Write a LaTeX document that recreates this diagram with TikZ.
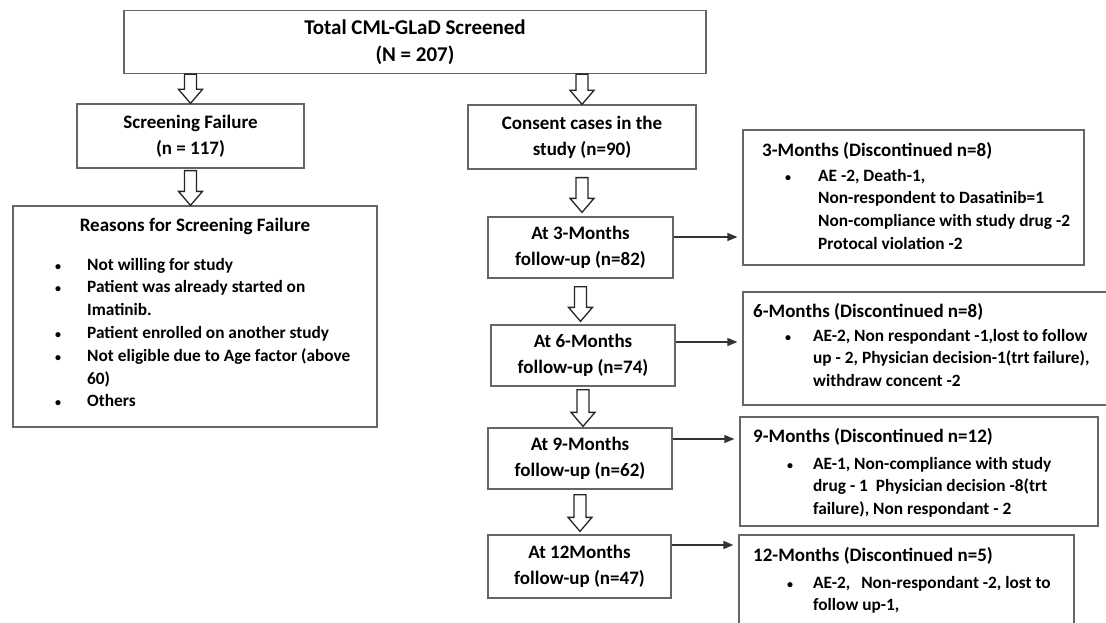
\documentclass[tikz,border=0pt]{standalone}
\usepackage{fontspec}
\setmainfont{Carlito}
\usetikzlibrary{arrows.meta, calc}

\newcommand{\hollowarrow}[2]{%
  \draw[blockarrow] let \p1=(#1), \p2=(#2) in
    (\x1-6pt,\y1) -- (\x1-6pt,\y2+14pt) -- (\x1-12pt,\y2+14pt) -- (\x1,\y2)
    -- (\x1+12pt,\y2+14pt) -- (\x1+6pt,\y2+14pt) -- (\x1+6pt,\y1) -- cycle;}
\newcommand{\dotitem}{{\fontsize{12}{12}\selectfont\textbullet}}

\begin{document}
\begin{tikzpicture}[x=1pt, y=-1pt]
\tikzstyle{box}=[draw=black!60, line width=1.3pt, inner sep=0pt, align=center, font=\fontsize{19}{26}\selectfont\bfseries]
\tikzstyle{txt}=[inner sep=0pt, font=\fontsize{17.3}{22.8}\selectfont\bfseries]
\tikzstyle{head}=[inner sep=0pt, font=\fontsize{19}{22.8}\selectfont\bfseries]
\tikzstyle{blockarrow}=[draw=black!85, line width=1.3pt, fill=white]
\tikzstyle{side}=[draw=black!80, line width=1.3pt, shorten >=5pt, -{Triangle[length=10pt, width=8pt]}]

\useasboundingbox (0,0) rectangle (1106,623);
\fill[white] (0,0) rectangle (1106,623);
\clip (0,0) rectangle (1106,623);

% screening
\node[box, minimum width=582pt, minimum height=63pt, font=\fontsize{21}{27.5}\selectfont\bfseries] (total) at (415,42) {Total CML-GLaD Screened\\(N = 207)};
\node[box, minimum width=227pt, minimum height=64pt] (fail) at (190.5,136) {Screening Failure\\(n = 117)};
\node[box, minimum width=364pt, minimum height=221pt] (reasons) at (195,316.5) {};
\node[head] (rtitle) at (195,226) {Reasons for Screening Failure};
\node[txt, anchor=north west] (rlist) at (55,254) {\begin{tabular}{@{}p{32pt}@{}l@{}}
\dotitem & Not willing for study\\
\dotitem & Patient was already started on\\
 & Imatinib.\\
\dotitem & Patient enrolled on another study\\
\dotitem & Not eligible due to Age factor (above\\
 & 60)\\
\dotitem & Others
\end{tabular}};

% follow-up
\node[box, minimum width=228pt, minimum height=64pt] (consent) at (582,137) {Consent cases in the\\study (n=90)};
\node[box, minimum width=185pt, minimum height=61pt] (m3) at (580.5,247.5) {At 3-Months\\follow-up (n=82)};
\node[box, minimum width=184pt, minimum height=61pt] (m6) at (583,355.5) {At 6-Months\\follow-up (n=74)};
\node[box, minimum width=184pt, minimum height=61pt] (m9) at (580,458.5) {At 9-Months\\follow-up (n=62)};
\node[box, minimum width=183pt, minimum height=63pt] (m12) at (579.5,566.5) {At 12Months\\follow-up (n=47)};

% discontinued
\node[box, minimum width=341pt, minimum height=135pt] (d3) at (913.5,197.5) {};
\node[box, minimum width=372pt, minimum height=113pt] (d6) at (929,348.5) {};
\node[box, minimum width=358pt, minimum height=109pt] (d9) at (919,471.5) {};
\node[box, minimum width=335pt, minimum height=105pt] (d12) at (906.5,587.5) {};

\node[head, anchor=west] (d3t) at (762,151) {3-Months (Discontinued n=8)};
\node[txt, anchor=north west] (d3l) at (785,165) {\begin{tabular}{@{}p{33pt}@{}l@{}}
\dotitem & AE -2, Death-1,\\
 & Non-respondent to Dasatinib=1\\
 & Non-compliance with study drug -2\\
 & Protocal violation -2
\end{tabular}};
\node[head, anchor=west] (d6t) at (753,312) {6-Months (Discontinued n=8)};
\node[txt, anchor=north west] (d6l) at (785,325) {\begin{tabular}{@{}p{28pt}@{}l@{}}
\dotitem & AE-2, Non respondant -1,lost to follow\\
 & up - 2, Physician decision-1(trt failure),\\
 & withdraw concent -2
\end{tabular}};
\node[head, anchor=west] (d9t) at (753,437) {9-Months (Discontinued n=12)};
\node[txt, anchor=north west] (d9l) at (787,453) {\begin{tabular}{@{}p{26pt}@{}l@{}}
\dotitem & AE-1, Non-compliance with study\\
 & drug - 1\ \ Physician decision -8(trt\\
 & failure), Non respondant - 2
\end{tabular}};
\node[head, anchor=west] (d12t) at (753,556) {12-Months (Discontinued n=5)};
\node[txt, anchor=north west] (d12l) at (787,572) {\begin{tabular}{@{}p{26pt}@{}l@{}}
\dotitem & AE-2,\hspace{11pt}Non-respondant -2, lost to\\
 & follow up-1,
\end{tabular}};

% arrows
\hollowarrow{fail.north |- total.south}{fail.north}
\hollowarrow{[yshift=-2pt]fail.south}{fail.south |- reasons.north}
\hollowarrow{consent.north |- total.south}{consent.north}
\hollowarrow{[yshift=-8pt]consent.south}{[yshift=4pt]m3.north}
\hollowarrow{[yshift=-8pt]m3.south}{[yshift=3pt]m6.north}
\hollowarrow{[yshift=-3pt]m6.south}{[yshift=1pt]m9.north}
\hollowarrow{[yshift=-5pt]m9.south}{[yshift=3pt]m12.north}

\draw[side] ([yshift=10.5pt]m3.east) -- ([yshift=10.5pt]m3.east -| d3.west);
\draw[side] ([yshift=13.5pt]m6.east) -- ([yshift=13.5pt]m6.east -| d6.west);
\draw[side] ([yshift=19.5pt]m9.east) -- ([yshift=19.5pt]m9.east -| d9.west);
\draw[side] ([yshift=21.5pt]m12.east) -- ([yshift=21.5pt]m12.east -| d12.west);
\end{tikzpicture}
\end{document}
